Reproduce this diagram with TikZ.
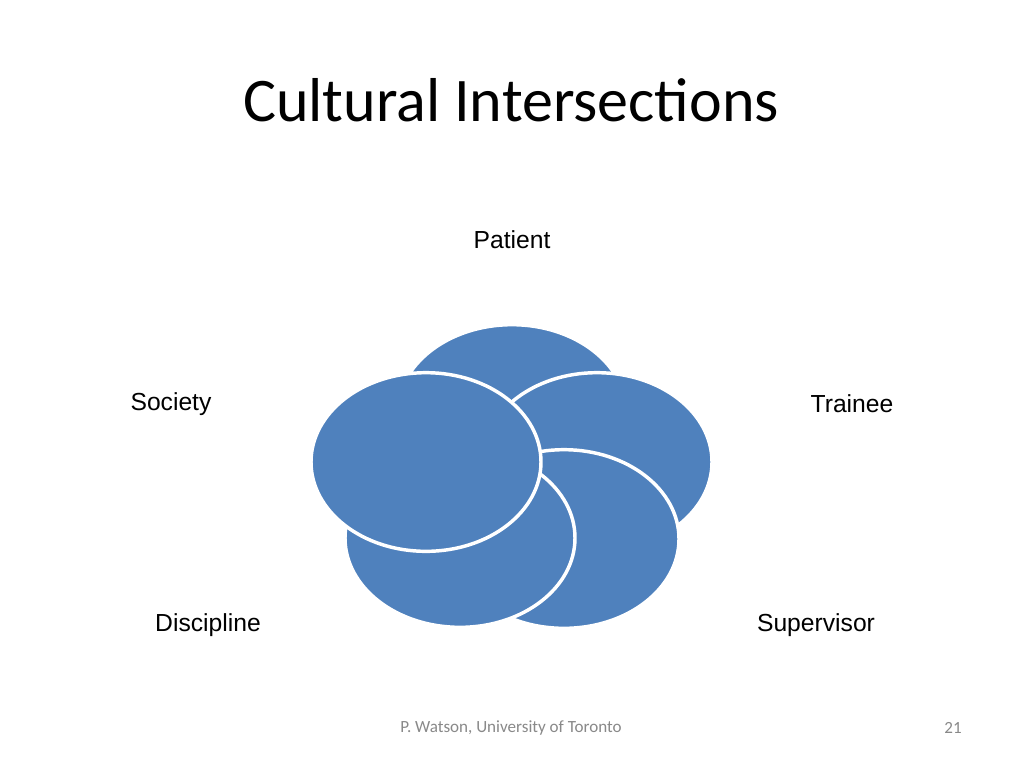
\documentclass[tikz,border=0pt]{standalone}
\usepackage{fontspec}
\setmainfont{Liberation Sans}
\newfontfamily\slidefont{Carlito}
\usetikzlibrary{shapes.geometric}
\definecolor{bubbleblue}{HTML}{4F81BD}
\definecolor{footgray}{HTML}{898989}

\begin{document}
\begin{tikzpicture}[x=0.75pt,y=-0.75pt,
  bubble/.style={ellipse,draw=white,line width=2.6pt,fill=bubbleblue,
    minimum width=172.5pt,minimum height=134pt,inner sep=0pt},
  tag/.style={font=\fontsize{18.5}{22}\selectfont}]

\useasboundingbox [fill=white] (0,0) rectangle (1024,768);

\node (title) at (511,100) {\slidefont\fontsize{46.5}{56}\selectfont Cultural Intersections};

% the five circles, bottom one first
\node [bubble] (c1) at (512,414) {};
\node [bubble] (c2) at (597,462) {};
\node [bubble] (c3) at (564,539) {};
\node [bubble] (c4) at (460,538) {};
\node [bubble] (c5) at (426,462) {};

\node [tag] (patient) at (512,240) {Patient};
\node [tag] (trainee) at (852,404) {Trainee};
\node [tag] (supervisor) at (816,625) {Supervisor};
\node [tag] (discipline) at (208,625) {Discipline};
\node [tag] (society) at (171,404) {Society};

\node [text=footgray] (foot) at (511,728) {\slidefont\fontsize{12.8}{15}\selectfont P. Watson, University of Toronto};
\node [text=footgray] (page) at (953,728) {\slidefont\fontsize{12.8}{15}\selectfont 21};
\end{tikzpicture}
\end{document}
